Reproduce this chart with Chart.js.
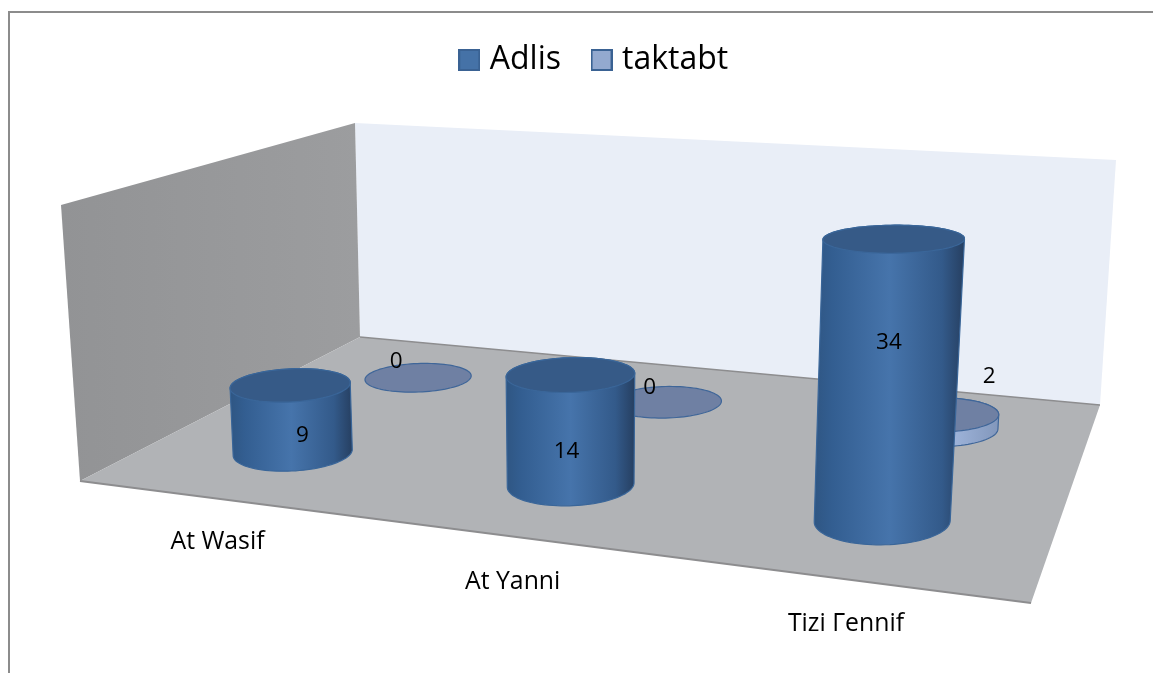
<!DOCTYPE html>
<html><head><meta charset="utf-8">
<style>html,body{margin:0;padding:0;background:#fff}#w{position:relative;width:1153px;height:673px}canvas{display:block}</style>
<script src="https://cdn.jsdelivr.net/npm/chart.js@4"></script></head>
<body><div id="w"><canvas id="c" width="1153" height="673"></canvas></div>
<script>
const categories = ['At Wasif', 'At Yanni', 'Tizi Γennif'];
const adlisValues = [9, 14, 34];
const taktabtValues = [0, 0, 2];

const FLOOR = [[80,481],[1031,603],[1100,405],[360,337]];
const CEIL  = [[61,205],[1052,274],[1116,160],[355,123]];
const FONT = '"Open Sans", sans-serif';

function homography(q){
  const [[x0,y0],[x1,y1],[x2,y2],[x3,y3]] = q;
  const dx1=x1-x2, dx2=x3-x2, sx=x0-x1+x2-x3, dy1=y1-y2, dy2=y3-y2, sy=y0-y1+y2-y3;
  const d=dx1*dy2-dx2*dy1, g=(sx*dy2-dx2*sy)/d, h=(dx1*sy-sx*dy1)/d;
  const a=x1-x0+g*x1, b=x3-x0+h*x3, e=y1-y0+g*y1, f=y3-y0+h*y3;
  return (u,v)=>{const w=g*u+h*v+1;return [(a*u+b*v+x0)/w,(e*u+f*v+y0)/w];};
}
const Hf = homography(FLOOR), Hc = homography(CEIL);
function proj(u,v,t){const p=Hf(u,v),q=Hc(u,v);return [p[0]+(q[0]-p[0])*t,p[1]+(q[1]-p[1])*t];}
function poly(ctx,pts){ctx.beginPath();pts.forEach((p,i)=>i?ctx.lineTo(p[0],p[1]):ctx.moveTo(p[0],p[1]));ctx.closePath();}
function hull(pts){
  const s=pts.slice().sort((a,b)=>a[0]-b[0]||a[1]-b[1]);
  const cr=(o,a,b)=>(a[0]-o[0])*(b[1]-o[1])-(a[1]-o[1])*(b[0]-o[0]);
  const lo=[],up=[];
  for(const p of s){while(lo.length>1&&cr(lo[lo.length-2],lo[lo.length-1],p)<=0)lo.pop();lo.push(p);}
  for(const p of s.slice().reverse()){while(up.length>1&&cr(up[up.length-2],up[up.length-1],p)<=0)up.pop();up.push(p);}
  return lo.slice(0,-1).concat(up.slice(0,-1));
}
function ellipse(u,v,ru,rv,t){
  const c=proj(u,v,t), e=proj(u+ru,v,t), w=proj(u-ru,v,t), n=proj(u,v+rv,t), s=proj(u,v-rv,t);
  const ax=(e[0]-w[0])/2*(1.1-0.12*u), ay=(e[1]-w[1])/2*0.15, bx=(n[0]-s[0])/2*0.4, by=(n[1]-s[1])/2, pts=[];
  for(let k=0;k<96;k++){
    const th=k/96*Math.PI*2, co=Math.cos(th), si=Math.sin(th);
    pts.push([c[0]+ax*co+bx*si, c[1]+ay*co+by*si]);
  }
  return pts;
}
function legendSwatch(fill,border){
  const c=document.createElement('canvas');c.width=22;c.height=22;
  const x=c.getContext('2d');x.fillStyle=fill;x.fillRect(1,1,20,20);x.strokeStyle=border;x.lineWidth=2;x.strokeRect(1,1,20,20);
  return c;
}
const SERIES_DEPTH = [0.25, 0.75];
const DEPTH_RADIUS = 0.11;
const STYLE = [
 {stops:[[0,'#2f5683'],[.12,'#335e91'],[.5,'#4674ab'],[.85,'#335a8a'],[1,'#263f61']],top:'#365a87',edge:'#3a6699'},
 {stops:[[0,'#8ea3c9'],[.5,'#a6bce3'],[1,'#8297bb']],top:'#6f80a3',edge:'#3f6699'}
];
const LABEL_NUDGE = [[[11,17],[-4,22],[1,-38]],[[-22,-16],[-16,-15],[50,-46]]];
const CATEGORY_NUDGE = [[73,1],[56,-2],[33,-10]];

const scene3d = {
  id:'scene3d',
  beforeDatasetDraw(){return false;},
  beforeDatasetsDraw(chart){
    const ctx=chart.ctx; ctx.save();
    ctx.strokeStyle='#8c8c8c';ctx.lineWidth=2;
    ctx.beginPath();ctx.moveTo(1153,12);ctx.lineTo(9,12);ctx.lineTo(9,673);ctx.stroke();
    poly(ctx,[CEIL[3],CEIL[2],FLOOR[2],FLOOR[3]]);ctx.fillStyle='#e9eef7';ctx.fill();
    poly(ctx,[CEIL[0],CEIL[3],FLOOR[3],FLOOR[0]]);
    const lw=ctx.createLinearGradient(61,0,360,0);lw.addColorStop(0,'#929395');lw.addColorStop(1,'#9c9d9f');
    ctx.fillStyle=lw;ctx.fill();
    poly(ctx,FLOOR);ctx.fillStyle='#b1b3b6';ctx.fill();
    ctx.strokeStyle='#8d8d8f';ctx.lineWidth=2;
    ctx.beginPath();ctx.moveTo(...FLOOR[0]);ctx.lineTo(...FLOOR[1]);ctx.stroke();
    ctx.lineWidth=1.5;
    ctx.beginPath();ctx.moveTo(...FLOOR[3]);ctx.lineTo(...FLOOR[2]);ctx.stroke();
    ctx.restore();

    const a=chart.chartArea, y=chart.scales.y, x=chart.scales.x;
    const items=[];
    for(let ds=chart.data.datasets.length-1;ds>=0;ds--){
      chart.getDatasetMeta(ds).data.forEach((el,i)=>{
        const u=(el.x-a.left)/a.width, ru=el.width/2/a.width, v=SERIES_DEPTH[ds];
        const t=(y.getPixelForValue(0)-el.y)/(y.bottom-y.top);
        items.push({ds,i,u,ru,v,t,value:chart.data.datasets[ds].data[i]});
      });
    }
    ctx.save();
    for(const it of items){
      const st=STYLE[it.ds];
      const bot=ellipse(it.u,it.v,it.ru,DEPTH_RADIUS,0), top=ellipse(it.u,it.v,it.ru,DEPTH_RADIUS,it.t);
      ctx.lineWidth=1.2;ctx.strokeStyle=st.edge;
      if(it.t>0){
        const h=hull(bot.concat(top));
        const xs=h.map(p=>p[0]);
        const g=ctx.createLinearGradient(Math.min(...xs),0,Math.max(...xs),0);
        st.stops.forEach(s=>g.addColorStop(s[0],s[1]));
        poly(ctx,h);ctx.fillStyle=g;ctx.fill();ctx.stroke();
      }
      poly(ctx,top);ctx.fillStyle=st.top;ctx.fill();ctx.stroke();
    }
    ctx.fillStyle='#000';ctx.textAlign='center';ctx.textBaseline='middle';ctx.font='22.5px '+FONT;
    for(const it of items){
      const p=proj(it.u,it.v,it.t/2), n=LABEL_NUDGE[it.ds][it.i];
      ctx.fillText(String(it.value),p[0]+n[0],p[1]+n[1]);
    }
    ctx.font='24.8px '+FONT;
    x.getLabels().forEach((lab,i)=>{
      const u=(x.getPixelForValue(i)-a.left)/a.width;
      const p=proj(u,-0.2,0), n=CATEGORY_NUDGE[i];
      ctx.fillText(lab,p[0]+n[0],p[1]+n[1]);
    });
    ctx.restore();
  }
};

const swatches=[legendSwatch('#4572a7','#3a6293'),legendSwatch('#93a9cf','#3a6293')];
new Chart(document.getElementById('c'),{
  type:'bar',
  data:{labels:categories,datasets:[
    {label:'Adlis',data:adlisValues,backgroundColor:'#4572a7',borderColor:'#3a6293',borderWidth:2,grouped:false},
    {label:'taktabt',data:taktabtValues,backgroundColor:'#93a9cf',borderColor:'#3a6293',borderWidth:2,grouped:false}
  ]},
  plugins:[scene3d],
  options:{
    responsive:false,animation:false,
    layout:{padding:{top:8,left:40,right:0,bottom:0}},
    datasets:{bar:{categoryPercentage:1,barPercentage:.41}},
    scales:{
      x:{display:false,type:'category'},
      y:{display:false,min:0,max:35.5}
    },
    plugins:{
      tooltip:{enabled:false},
      legend:{position:'top',labels:{
        usePointStyle:true,boxWidth:9,boxHeight:9,padding:36,color:'#000',
        font:{family:'"Open Sans", sans-serif',size:32},
        generateLabels(chart){
          return Chart.defaults.plugins.legend.labels.generateLabels(chart).map((l,i)=>({...l,pointStyle:swatches[i]}));
        }
      }}
    }
  }
});
</script></body></html>
